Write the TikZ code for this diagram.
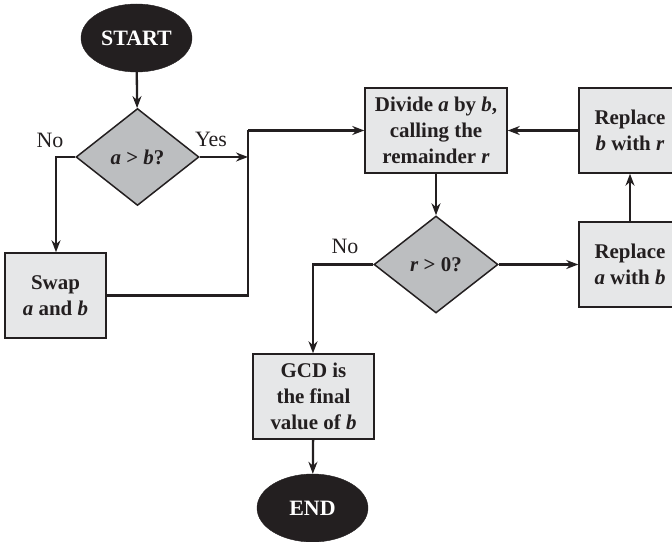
\documentclass[tikz,border=0pt]{standalone}
\usepackage{fontspec}
\setmainfont{Liberation Serif}
\usetikzlibrary{shapes.geometric,arrows.meta}
\definecolor{boxgray}{HTML}{E6E7E8}
\definecolor{diagray}{HTML}{BCBEC0}
\definecolor{ink}{HTML}{231F20}
\tikzset{
  procbox/.style={draw=ink, line width=1.5pt, fill=boxgray, rectangle, align=center,
    font=\fontsize{21}{26}\selectfont\bfseries, text=ink, inner sep=0pt},
  decision/.style={draw=ink, line width=1.5pt, fill=diagray, diamond, inner sep=0pt,
    font=\fontsize{21}{26}\selectfont\bfseries, text=ink},
  terminal/.style={ellipse, fill=ink, draw=ink, inner sep=0pt, text=white,
    font=\fontsize{22}{26}\selectfont\bfseries},
  flow/.style={draw=ink, line width=2.3pt, -{Stealth[length=12pt,width=9pt]}},
  plain/.style={draw=ink, line width=2.3pt},
  lbl/.style={font=\fontsize{22}{26}\selectfont, text=ink}
}
\begin{document}
\begin{tikzpicture}[x=1bp,y=-1bp]
\useasboundingbox (0,0) rectangle (672,542);
\clip (0,0) rectangle (672,542);
% terminals
\node[terminal, minimum width=111bp, minimum height=68bp] (start) at (136.5,38) {START};
\node[terminal, minimum width=111bp, minimum height=68bp] (end) at (312.5,508) {END};
% decisions
\node[decision, minimum width=123bp, minimum height=97bp] (d1) at (137.5,157) {\textit{a} > \textit{b}?};
\node[decision, minimum width=124bp, minimum height=97bp] (d2) at (436,264.5) {\textit{r} > 0?};
% boxes
\node[procbox, minimum width=101bp, minimum height=85bp] (swap) at (55.5,295.5) {Swap\\\textit{a} and \textit{b}};
\node[procbox, minimum width=142bp, minimum height=85bp] (divide) at (436,130.5) {Divide \textit{a} by \textit{b},\\calling the\\remainder \textit{r}};
\node[procbox, minimum width=102bp, minimum height=85bp] (repb) at (630,130.5) {Replace\\\textit{b} with \textit{r}};
\node[procbox, minimum width=102bp, minimum height=85bp] (repa) at (630,264.5) {Replace\\\textit{a} with \textit{b}};
\node[procbox, minimum width=121bp, minimum height=85bp] (gcd) at (313.5,396.5) {GCD is\\the final\\value of \textit{b}};
% junction coordinates
\coordinate (j1) at (248,157);
\coordinate (j2) at (248,130.5);
\coordinate (nl) at (56,157);
\coordinate (nr) at (313,264.5);
% connectors
\draw[flow] (start) -- (d1);
\draw[flow] (d1.east) -- (j1);
\draw[flow] (d1.west) -- (nl) -- (swap.north -| nl);
\draw[plain] (swap.east) -- (swap.east -| j1) -- (j2);
\draw[flow] (j2) -- (divide.west);
\draw[flow] (repb.west) -- (divide.east);
\draw[flow] (divide) -- (d2);
\draw[flow] (d2.east) -- (repa.west);
\draw[flow] (repa) -- (repb);
\draw[flow] (d2.west) -- (nr) -- (gcd.north -| nr);
\draw[flow] (gcd) -- (end);
% labels
\node[lbl] (no1) at (50,140) {No};
\node[lbl] (yes1) at (211,139) {Yes};
\node[lbl] (no2) at (345,246) {No};
\end{tikzpicture}
\end{document}
